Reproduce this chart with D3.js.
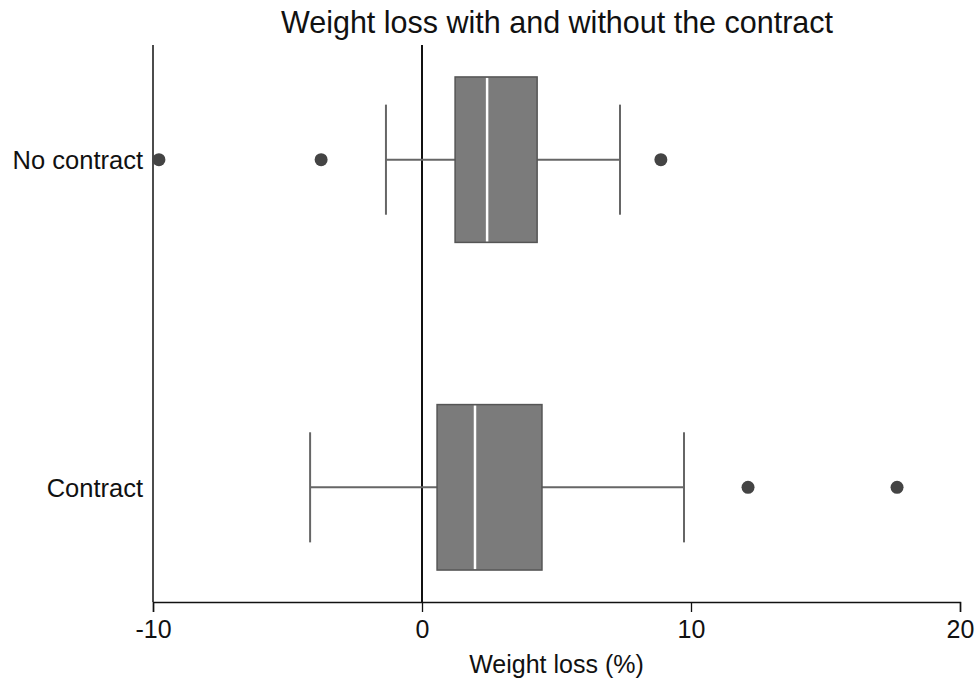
<!DOCTYPE html>
<html>
<head>
<meta charset="utf-8">
<script src="https://cdn.jsdelivr.net/npm/d3@7"></script>
<style>
  body { margin: 0; background: #fff; }
  text { font-family: "Liberation Sans", Arial, sans-serif; fill: #111; }
</style>
</head>
<body>
<div id="chart"></div>
<script>
// groups, top to bottom
const groups = ["No contract", "Contract"];
// box stats per group (weight loss, %)
const q1 = [1.23, 0.56];
const median = [2.42, 1.97];
const q3 = [4.28, 4.46];
const whiskerLow = [-1.34, -4.16];
const whiskerHigh = [7.36, 9.74];
const outliers = [[-9.78, -3.75, 8.88], [12.12, 17.66]];
const xTicks = [-10, 0, 10, 20];

const width = 976, height = 684;
const margin = { top: 45, right: 15, bottom: 82, left: 153 };

const svg = d3.select("#chart").append("svg")
  .attr("width", width)
  .attr("height", height);

const x = d3.scaleLinear()
  .domain([-10, 20])
  .range([margin.left, width - margin.right - 1]);

const y = d3.scalePoint()
  .domain(groups)
  .range([margin.top, height - margin.bottom])
  .padding(0.35);

const step = y.step();
const boxH = step * 0.505;
const capH = step * 0.336;

const data = groups.map((g, i) => ({
  group: g,
  q1: q1[i], median: median[i], q3: q3[i],
  lo: whiskerLow[i], hi: whiskerHigh[i],
  out: outliers[i]
}));

// title
svg.append("text")
  .attr("x", 557)
  .attr("y", 33)
  .attr("text-anchor", "middle")
  .style("font-size", "30.5px")
  .text("Weight loss with and without the contract");

// x axis
const xAxis = svg.append("g")
  .attr("transform", `translate(0,${height - margin.bottom})`)
  .call(d3.axisBottom(x).tickValues(xTicks).tickSize(10).tickPadding(8).tickFormat(d3.format("d")));
xAxis.select(".domain").attr("stroke", "#111").attr("stroke-width", 1.5);
xAxis.selectAll(".tick line").attr("stroke", "#111").attr("stroke-width", 1.3);
xAxis.selectAll(".tick text")
  .style("font-size", "25px")
  .attr("fill", "#111")
  .text(d => d < 0 ? "-" + Math.abs(d) : d);

svg.append("text")
  .attr("x", x(5))
  .attr("y", 673)
  .attr("text-anchor", "middle")
  .style("font-size", "25px")
  .text("Weight loss (%)");

// y axis line and labels
svg.append("line")
  .attr("x1", x(-10)).attr("x2", x(-10))
  .attr("y1", margin.top).attr("y2", height - margin.bottom)
  .attr("stroke", "#111").attr("stroke-width", 1.5);

svg.selectAll(".ylab")
  .data(groups)
  .join("text")
  .attr("class", "ylab")
  .attr("x", 143)
  .attr("y", d => y(d))
  .attr("dy", "0.36em")
  .attr("text-anchor", "end")
  .style("font-size", "25.5px")
  .text(d => d);

// zero reference line
svg.append("line")
  .attr("x1", x(0)).attr("x2", x(0))
  .attr("y1", margin.top).attr("y2", height - margin.bottom)
  .attr("stroke", "#111").attr("stroke-width", 2);

const box = svg.selectAll(".box")
  .data(data)
  .join("g")
  .attr("class", "box");

// whisker line
box.append("line")
  .attr("x1", d => x(d.lo)).attr("x2", d => x(d.hi))
  .attr("y1", d => y(d.group)).attr("y2", d => y(d.group))
  .attr("stroke", "#666").attr("stroke-width", 2);

// caps
box.selectAll(".cap")
  .data(d => [d.lo, d.hi].map(v => ({ v, g: d.group })))
  .join("line")
  .attr("class", "cap")
  .attr("x1", d => x(d.v)).attr("x2", d => x(d.v))
  .attr("y1", d => y(d.g) - capH / 2).attr("y2", d => y(d.g) + capH / 2)
  .attr("stroke", "#666").attr("stroke-width", 2);

// box
box.append("rect")
  .attr("x", d => x(d.q1))
  .attr("y", d => y(d.group) - boxH / 2)
  .attr("width", d => x(d.q3) - x(d.q1))
  .attr("height", boxH)
  .attr("fill", "#7b7b7b")
  .attr("stroke", "#555")
  .attr("stroke-width", 1.5);

// median
box.append("line")
  .attr("x1", d => x(d.median)).attr("x2", d => x(d.median))
  .attr("y1", d => y(d.group) - boxH / 2 + 1).attr("y2", d => y(d.group) + boxH / 2 - 1)
  .attr("stroke", "#fff").attr("stroke-width", 2.5);

// outliers
box.selectAll(".out")
  .data(d => d.out.map(v => ({ v, g: d.group })))
  .join("circle")
  .attr("class", "out")
  .attr("cx", d => x(d.v))
  .attr("cy", d => y(d.g))
  .attr("r", 6.5)
  .attr("fill", "#444");
</script>
</body>
</html>
